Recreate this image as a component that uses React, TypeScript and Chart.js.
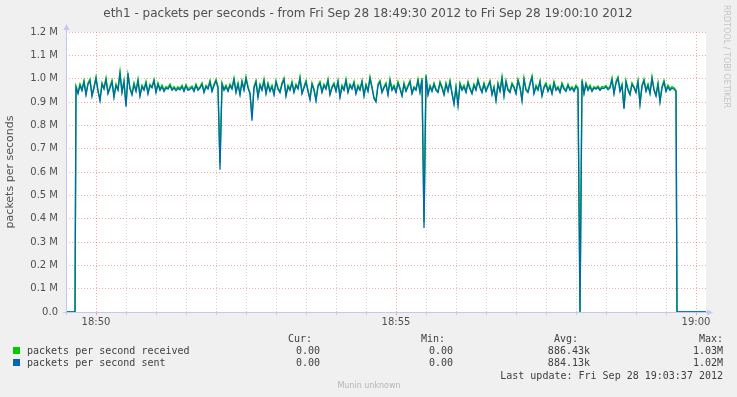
import React, { useEffect, useRef } from 'react';
import { Chart, registerables } from 'chart.js';

Chart.register(...registerables);

// ---- data (packets per second, in thousands) ----
const startSec = 10; // seconds after 18:49:30 of first sample
const stepSec = 2;
const leadZeroSec = [0, 9];
const trailZeroSec = [611, 640];

const sentK = [
  962, 935, 970, 948, 985, 930, 975, 990, 925, 960,
  1000, 945, 905, 975, 955, 995, 935, 960, 985, 920,
  970, 950, 1020, 940, 985, 880, 1015, 955, 930, 975,
  945, 990, 925, 965, 950, 980, 935, 970, 960, 990,
  940, 975, 950, 965, 945, 960, 955, 970, 950, 960,
  948, 958, 952, 965, 945, 968, 950, 955, 962, 945,
  970, 950, 960, 975, 940, 965, 955, 985, 945, 970,
  990, 960, 610, 975, 950, 965, 945, 970, 955, 995,
  940, 975, 930, 985, 950, 1000, 960, 935, 820, 960,
  985, 920, 970, 950, 990, 935, 975, 945, 965, 930,
  985, 955, 940, 975, 995, 925, 965, 950, 980, 940,
  970, 955, 1000, 935, 960, 985, 945, 910, 975, 950,
  905, 965, 980, 940, 970, 955, 990, 930, 960, 975,
  945, 985, 920, 965, 950, 990, 940, 970, 955, 980,
  935, 965, 950, 985, 925, 970, 945, 1000, 960, 915,
  900, 970, 985, 940, 960, 975, 930, 990, 950, 965,
  940, 980, 955, 925, 975, 945, 965, 985, 935, 960,
  950, 990, 940, 995, 360, 1010, 930, 965, 945, 975,
  950, 940, 980, 960, 930, 975, 945, 985, 935, 890,
  960, 885, 975, 950, 965, 940, 980, 955, 935, 970,
  950, 990, 960, 940, 975, 945, 965, 985, 930, 960,
  905, 975, 945, 1000, 925, 985, 950, 940, 975, 960,
  935, 990, 960, 905, 995, 950, 940, 975, 1005, 935,
  965, 950, 985, 925, 960, 975, 945, 965, 935, 980,
  950, 960, 940, 975, 955, 945, 970, 950, 960, 945,
  965, 955, 0, 990, 935, 975, 950, 965, 945, 960,
  955, 962, 950, 960, 958, 965, 952, 960, 995, 935,
  980, 1000, 945, 970, 870, 985, 950, 930, 975, 960,
  940, 985, 890, 965, 990, 945, 970, 935, 1000, 950,
  925, 975, 900, 960, 985, 945, 965, 950, 960, 955,
  945,
];

const receivedK = [
  968, 942, 978, 955, 992, 936, 982, 998, 930, 966,
  1008, 950, 912, 982, 960, 1003, 940, 967, 993, 926,
  977, 956, 1030, 945, 992, 886, 1024, 960, 936, 982,
  950, 998, 930, 972, 956, 988, 940, 976, 965, 997,
  946, 982, 956, 972, 952, 966, 962, 977, 956, 966,
  955, 965, 958, 972, 951, 975, 956, 962, 968, 951,
  977, 956, 966, 982, 946, 971, 961, 992, 950, 976,
  997, 966, 640, 982, 956, 972, 951, 977, 961, 1003,
  946, 982, 936, 992, 956, 1008, 966, 940, 840, 966,
  992, 926, 977, 956, 998, 941, 982, 951, 972, 936,
  992, 961, 946, 982, 1003, 930, 972, 956, 988, 946,
  977, 961, 1008, 940, 966, 992, 951, 916, 982, 956,
  910, 972, 988, 946, 977, 961, 998, 936, 966, 982,
  951, 992, 926, 972, 956, 998, 946, 977, 961, 988,
  940, 972, 956, 992, 930, 977, 951, 1008, 966, 920,
  906, 977, 992, 946, 966, 982, 936, 998, 956, 972,
  946, 988, 961, 930, 982, 951, 972, 992, 940, 966,
  956, 998, 946, 1003, 385, 1018, 936, 972, 951, 982,
  956, 946, 988, 966, 936, 982, 951, 992, 940, 896,
  966, 890, 982, 956, 972, 946, 988, 961, 940, 977,
  956, 998, 966, 946, 982, 951, 972, 992, 936, 966,
  910, 982, 951, 1008, 930, 992, 956, 946, 982, 966,
  940, 998, 966, 910, 1003, 956, 946, 982, 1012, 940,
  972, 956, 992, 930, 966, 982, 951, 972, 940, 988,
  956, 966, 946, 982, 961, 951, 977, 956, 966, 951,
  972, 961, 0, 998, 940, 982, 956, 972, 951, 966,
  961, 968, 956, 966, 964, 971, 958, 966, 1003, 940,
  988, 1008, 951, 977, 876, 992, 956, 936, 982, 966,
  946, 992, 896, 972, 998, 951, 977, 940, 1008, 956,
  930, 982, 906, 966, 992, 951, 972, 956, 966, 961,
  950,
];

const xMinSec = 0;
const xMaxSec = 640;
const xMinorStepSec = 30;
const xMajorSeconds = [30, 330, 630];
const xMajorLabels = ['18:50', '18:55', '19:00'];
const yTickLabels = ['0.0', '0.1 M', '0.2 M', '0.3 M', '0.4 M', '0.5 M', '0.6 M', '0.7 M', '0.8 M', '0.9 M', '1.0 M', '1.1 M', '1.2 M'];
const yMax = 1200000;
const yStep = 100000;

const titleText = 'eth1 - packets per seconds - from Fri Sep 28 18:49:30 2012 to Fri Sep 28 19:00:10 2012';
const yAxisTitle = 'packets per seconds';
const sideText = 'RRDTOOL / TOBI OETIKER';
const legendHeaders = ['Cur:', 'Min:', 'Avg:', 'Max:'];
const legendNames = ['packets per second received', 'packets per second sent'];
const legendColors = ['#00CC00', '#0066B3'];
const legendValues = [
  ['0.00', '0.00', '886.43k', '1.03M'],
  ['0.00', '0.00', '884.13k', '1.02M'],
];
const lastUpdate = 'Last update: Fri Sep 28 19:03:37 2012';
const footer = 'Munin unknown';

function toPoints(vals: number[]) {
  return [
    ...leadZeroSec.map((s) => ({ x: s, y: 0 })),
    ...vals.map((v, i) => ({ x: startSec + stepSec * i, y: v * 1000 })),
    ...trailZeroSec.map((s) => ({ x: s, y: 0 })),
  ];
}

const decorPlugin = {
  id: 'decor',
  beforeDraw(chart: any) {
    const { ctx, chartArea } = chart;
    ctx.save();
    ctx.fillStyle = '#F0F0F0';
    ctx.fillRect(0, 0, chart.width, chart.height);
    ctx.fillStyle = '#FFFFFF';
    ctx.fillRect(chartArea.left, chartArea.top, chartArea.right - chartArea.left, chartArea.bottom - chartArea.top);
    ctx.restore();
  },
  afterDraw(chart: any) {
    const { ctx, chartArea } = chart;
    const L = chartArea.left;
    const B = chartArea.bottom;
    ctx.save();
    // axes with arrows
    ctx.strokeStyle = '#C4C8F0';
    ctx.fillStyle = '#C4C8F0';
    ctx.lineWidth = 1;
    ctx.beginPath();
    ctx.moveTo(L - 3, B + 0.5);
    ctx.lineTo(chartArea.right + 2, B + 0.5);
    ctx.moveTo(L + 0.5, B + 3);
    ctx.lineTo(L + 0.5, chartArea.top - 3);
    ctx.stroke();
    ctx.beginPath();
    ctx.moveTo(chartArea.right + 7, B + 0.5);
    ctx.lineTo(chartArea.right + 1, B - 2.5);
    ctx.lineTo(chartArea.right + 1, B + 3.5);
    ctx.closePath();
    ctx.fill();
    ctx.beginPath();
    ctx.moveTo(L + 0.5, chartArea.top - 8);
    ctx.lineTo(L - 2.5, chartArea.top - 2);
    ctx.lineTo(L + 3.5, chartArea.top - 2);
    ctx.closePath();
    ctx.fill();

    // title
    ctx.fillStyle = '#505050';
    ctx.font = '12px "DejaVu Sans"';
    ctx.textAlign = 'center';
    ctx.textBaseline = 'middle';
    ctx.fillText(titleText, 368, 14);

    // y axis title
    ctx.save();
    ctx.translate(10, 172);
    ctx.rotate(-Math.PI / 2);
    ctx.font = '11px "DejaVu Sans"';
    ctx.fillStyle = '#505050';
    ctx.fillText(yAxisTitle, 0, 0);
    ctx.restore();

    // side text
    ctx.save();
    ctx.translate(726, 5);
    ctx.rotate(Math.PI / 2);
    ctx.font = '8px "DejaVu Sans"';
    ctx.fillStyle = '#C4C4C4';
    ctx.textAlign = 'left';
    ctx.fillText(sideText, 0, 0);
    ctx.restore();

    // legend
    ctx.font = '10px "DejaVu Sans Mono"';
    ctx.fillStyle = '#404040';
    ctx.textAlign = 'right';
    const headerX = [312, 445, 578, 723];
    const valueX = [320, 453, 590, 723];
    legendHeaders.forEach((h, i) => ctx.fillText(h, headerX[i], 339));
    legendNames.forEach((name, r) => {
      const y = 351 + r * 12;
      ctx.fillStyle = legendColors[r];
      ctx.fillRect(13, y - 4, 7, 7);
      ctx.fillStyle = '#404040';
      ctx.textAlign = 'left';
      ctx.fillText(name, 27, y);
      ctx.textAlign = 'right';
      legendValues[r].forEach((v, i) => ctx.fillText(v, valueX[i], y));
    });
    ctx.fillText(lastUpdate, 723, 376);

    ctx.font = '8px "DejaVu Sans"';
    ctx.fillStyle = '#B4B4B4';
    ctx.textAlign = 'center';
    ctx.fillText(footer, 369, 386);
    ctx.restore();
  },
};

export default function App() {
  const canvasRef = useRef<HTMLCanvasElement | null>(null);

  useEffect(() => {
    const canvas = canvasRef.current;
    if (!canvas) return;
    const majorRed = 'rgba(240,110,110,0.6)';
    const minorGray = 'rgba(170,170,170,0.5)';
    const chart = new Chart(canvas, {
      type: 'line',
      data: {
        datasets: [
          {
            label: legendNames[1],
            data: toPoints(sentK),
            borderColor: '#0066B3',
            borderWidth: 1.3,
            pointRadius: 0,
            tension: 0,
            fill: false,
          },
          {
            label: legendNames[0],
            data: toPoints(receivedK),
            borderColor: '#00CC00',
            borderWidth: 1.4,
            pointRadius: 0,
            tension: 0,
            fill: false,
          },
        ],
      },
      options: {
        animation: false,
        responsive: false,
        devicePixelRatio: 1,
        parsing: false as any,
        layout: { padding: { left: 0, right: 31, top: 32, bottom: 65 } },
        plugins: {
          legend: { display: false },
          title: { display: false },
          tooltip: { enabled: false },
        },
        scales: {
          x: {
            type: 'linear',
            min: xMinSec,
            max: xMaxSec,
            afterFit: (s: any) => { s.height = 20; },
            afterBuildTicks: (s: any) => {
              const t = [];
              for (let v = xMinSec + xMinorStepSec; v < xMaxSec; v += xMinorStepSec) t.push({ value: v });
              s.ticks = t;
            },
            grid: {
              color: (c: any) => (xMajorSeconds.includes(c.tick?.value) ? majorRed : minorGray),
              tickColor: (c: any) => (xMajorSeconds.includes(c.tick?.value) ? majorRed : minorGray),
              lineWidth: 1,
              drawTicks: true,
              tickLength: 3,
            },
            border: { display: false, dash: [1, 2] },
            ticks: {
              autoSkip: false,
              maxRotation: 0,
              padding: 1,
              color: '#505050',
              font: { family: 'DejaVu Sans', size: 10 },
              callback: (v: any) => {
                const idx = xMajorSeconds.indexOf(Number(v));
                return idx >= 0 ? xMajorLabels[idx] : '';
              },
            },
          },
          y: {
            type: 'linear',
            min: 0,
            max: yMax,
            afterFit: (s: any) => { s.width = 66; },
            grid: {
              color: (c: any) => (c.tick?.value === 0 ? 'rgba(0,0,0,0)' : majorRed),
              lineWidth: 1,
              drawTicks: false,
            },
            border: { display: false, dash: [1, 2] },
            ticks: {
              stepSize: yStep,
              padding: 8,
              color: '#505050',
              font: { family: 'DejaVu Sans', size: 10 },
              callback: (v: any) => yTickLabels[Math.round(Number(v) / yStep)] ?? '',
            },
          },
        },
      },
      plugins: [decorPlugin],
    } as any);
    return () => chart.destroy();
  }, []);

  return (
    <div style={{ position: 'fixed', left: 0, top: 0, width: 737, height: 397, background: '#F0F0F0' }}>
      <canvas ref={canvasRef} width={737} height={397} style={{ width: 737, height: 397, display: 'block' }} />
    </div>
  );
}
